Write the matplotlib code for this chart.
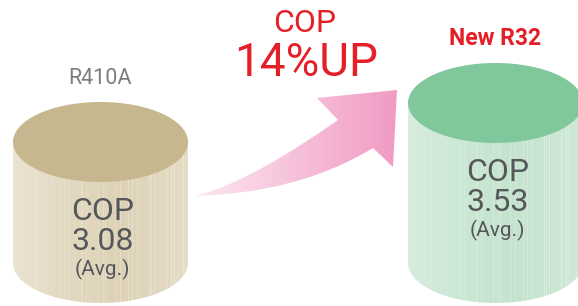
import numpy as np
import matplotlib.pyplot as plt
from matplotlib.patches import Ellipse, PathPatch
from matplotlib.path import Path
from matplotlib.colors import to_rgb

plt.rcParams['font.family'] = ['Roboto', 'DejaVu Sans']

# data
refrigerants = ["R410A", "New R32"]
cop_values = [3.08, 3.53]
cop_labels = ["3.08", "3.53"]
improvement = "14%UP"

W, H = 578, 306
fig = plt.figure(figsize=(W / 100, H / 100), dpi=100)
ax = fig.add_axes([0, 0, 1, 1])
ax.set_xlim(0, W)
ax.set_ylim(H, 0)
ax.axis('off')

# cylinder geometry (pixels)
centers = [100.5, 495.5]
half_w = 87.5
half_h = 40
base_y = 263


def top_y(v):
    # top of cylinder moves up ~87 px per COP unit
    return 142 - (v - 3.08) * 86.7


styles = [
    dict(top="#c6b78e", light="#ebe4d3", dark="#ddd2b6", stripe="#f1ece0",
         label_color="#7d7d7d", label_weight="normal", label_size=15.5),
    dict(top="#80c89c", light="#d8eddf", dark="#c4e3cd", stripe="#e4f3e9",
         label_color="#e51f27", label_weight="bold", label_size=16.5),
]


def body_colors(st, n):
    t = np.linspace(0, 1, n)
    light = np.array(to_rgb(st["light"]))
    dark = np.array(to_rgb(st["dark"]))
    stripe = np.array(to_rgb(st["stripe"]))
    # darkest around 60% of the width
    w = np.clip(1 - np.abs(t - 0.6) / 0.6, 0, 1) ** 0.8
    cols = light[None, :] * (1 - w[:, None]) + dark[None, :] * w[:, None]
    idx = np.arange(n)
    mask = ((idx * 7) % 17 < 2) | ((idx * 5) % 23 == 0)
    amt = np.where(mask, 0.15 + 0.45 * t, 0)
    cols = cols * (1 - amt[:, None]) + stripe[None, :] * amt[:, None]
    return cols[None, :, :]


for cx, v, name, txt, st in zip(centers, cop_values, refrigerants, cop_labels, styles):
    yt = top_y(v)
    # body outline: straight sides, rounded bottom
    th = np.linspace(np.pi, 0, 60)
    bx = cx + half_w * np.cos(th)
    by = base_y + half_h * np.sin(th)
    verts = [(cx - half_w, yt)] + list(zip(bx, by)) + [(cx + half_w, yt), (cx - half_w, yt)]
    codes = [Path.MOVETO] + [Path.LINETO] * (len(verts) - 2) + [Path.CLOSEPOLY]
    body = PathPatch(Path(verts, codes), facecolor='none', edgecolor='none')
    ax.add_patch(body)
    img = ax.imshow(body_colors(st, 175), extent=(cx - half_w, cx + half_w, base_y + half_h, yt),
                    aspect='auto', interpolation='nearest', zorder=1)
    img.set_clip_path(body)
    ax.add_patch(Ellipse((cx, yt), 2 * half_w, 2 * half_h, facecolor=st["top"],
                         edgecolor='none', zorder=2))
    ax.text(cx, yt - 64, name, ha='center', va='center', color=st["label_color"],
            fontsize=st["label_size"], fontweight=st["label_weight"], zorder=3)
    ax.text(cx + 2, yt + 70, "COP", ha='center', va='center', color="#55575a",
            fontsize=23, zorder=3)
    ax.text(cx + 2, yt + 100, txt, ha='center', va='center', color="#55575a",
            fontsize=23, zorder=3)
    ax.text(cx + 2, yt + 127, "(Avg.)", ha='center', va='center', color="#55575a",
            fontsize=15, zorder=3)

# curved arrow
P, L, C = Path.MOVETO, Path.LINETO, Path.CURVE4
arrow_verts = [
    (195, 196),
    (260, 194), (320, 180), (373, 148),
    (393, 167), (397, 90), (317, 98), (338, 120),
    (295, 150), (240, 185), (195, 196),
    (195, 196),
]
arrow_codes = [P, C, C, C, L, L, L, L, C, C, C, Path.CLOSEPOLY]
arrow = PathPatch(Path(arrow_verts, arrow_codes), facecolor='none', edgecolor='none')
ax.add_patch(arrow)
c0 = np.array(to_rgb("#fce8f1"))
c1 = np.array(to_rgb("#f19ac3"))
t = np.linspace(0, 1, 200)
grad = c0[None, :] * (1 - t[:, None]) + c1[None, :] * t[:, None]
aimg = ax.imshow(grad[None, :, :], extent=(195, 398, 197, 89), aspect='auto', zorder=1)
aimg.set_clip_path(arrow)

ax.text(305, 23, "COP", ha='center', va='center', color="#e51f27", fontsize=23)
ax.text(306, 63, improvement, ha='center', va='center', color="#e51f27", fontsize=33)

ax.set_xlim(0, W)
ax.set_ylim(H, 0)
fig.savefig("out.png", dpi=100)
